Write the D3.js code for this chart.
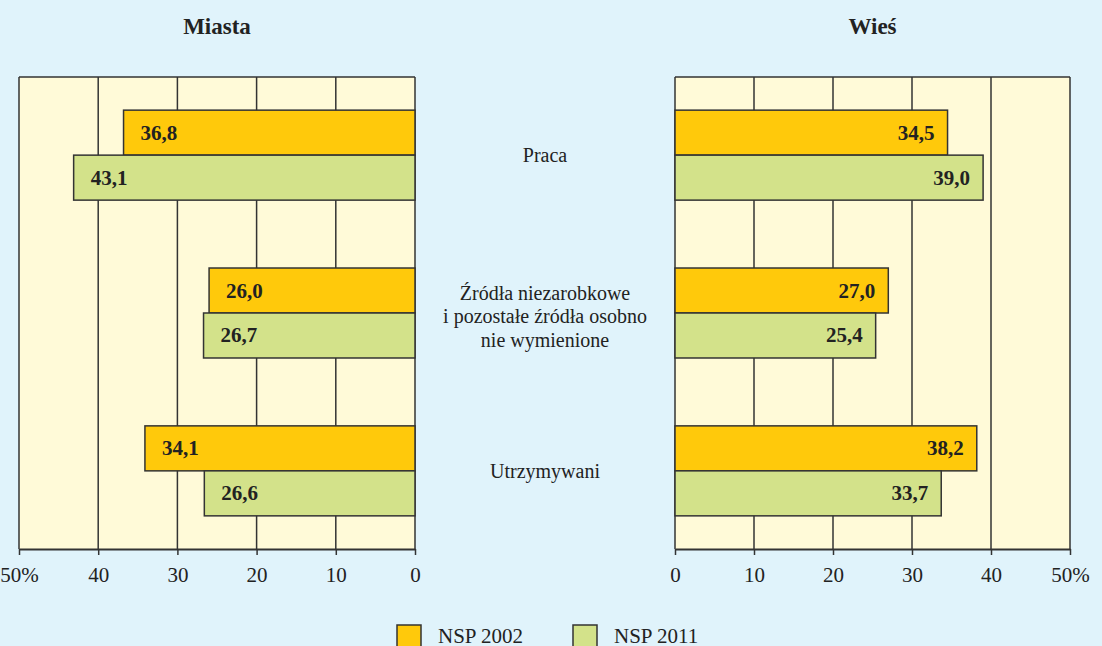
<!DOCTYPE html>
<html>
<head>
    <meta charset="utf-8">
    <script src="https://cdn.jsdelivr.net/npm/d3@7"></script>
    <style>
        body { margin: 0; background: #e0f3fb; }
        svg { display: block; }
        text { font-family: "Liberation Serif", "Times New Roman", serif; fill: #222; }
        .tick text { font-size: 21px; }
    </style>
</head>
<body>
<script>
    // data
    var categories = ["Praca", "Źródła niezarobkowe|i pozostałe źródła osobno|nie wymienione", "Utrzymywani"];
    var series = ["NSP 2002", "NSP 2011"];
    var miasta2002 = [36.8, 26.0, 34.1];
    var miasta2011 = [43.1, 26.7, 26.6];
    var wies2002 = [34.5, 27.0, 38.2];
    var wies2011 = [39.0, 25.4, 33.7];
    var tickValues = [0, 10, 20, 30, 40, 50];

    var colors = { "NSP 2002": "#ffc90b", "NSP 2011": "#d3e28a" };
    var W = 1102, H = 646;
    var plotTop = 77, plotBottom = 549;

    var svg = d3.select("body").append("svg")
        .attr("width", W).attr("height", H);

    svg.append("rect").attr("width", W).attr("height", H).attr("fill", "#e0f3fb");

    var y = d3.scaleBand().domain(categories).range([plotTop, plotBottom])
        .paddingInner(0.43).paddingOuter(0.21);
    var ySub = d3.scaleBand().domain(series).range([0, y.bandwidth()]);

    function fmt(v) { return v.toFixed(1).replace(".", ","); }

    function panel(title, x, d2002, d2011, leftSide) {
        var g = svg.append("g");
        var x0 = x(0), x50 = x(50);
        var lo = Math.min(x0, x50), hi = Math.max(x0, x50);

        g.append("rect").attr("x", lo).attr("y", plotTop)
            .attr("width", hi - lo).attr("height", plotBottom - plotTop)
            .attr("fill", "#fffad8");

        // grid
        g.selectAll(".grid").data(tickValues).enter().append("line")
            .attr("x1", function(d) { return x(d); }).attr("x2", function(d) { return x(d); })
            .attr("y1", plotTop).attr("y2", plotBottom)
            .attr("stroke", "#333").attr("stroke-width", 1.5);
        g.append("line").attr("x1", lo).attr("x2", hi).attr("y1", plotTop).attr("y2", plotTop)
            .attr("stroke", "#333").attr("stroke-width", 1.5);

        // bars
        var rows = [];
        categories.forEach(function(c, i) {
            rows.push({ cat: c, s: "NSP 2002", v: d2002[i] });
            rows.push({ cat: c, s: "NSP 2011", v: d2011[i] });
        });
        g.selectAll(".bar").data(rows).enter().append("rect")
            .attr("x", function(d) { return Math.min(x(0), x(d.v)); })
            .attr("y", function(d) { return y(d.cat) + ySub(d.s); })
            .attr("width", function(d) { return Math.abs(x(d.v) - x(0)); })
            .attr("height", ySub.bandwidth())
            .attr("fill", function(d) { return colors[d.s]; })
            .attr("stroke", "#333").attr("stroke-width", 1.5);

        g.selectAll(".lbl").data(rows).enter().append("text")
            .attr("x", function(d) { return leftSide ? x(d.v) + 17 : x(d.v) - 13; })
            .attr("y", function(d) { return y(d.cat) + ySub(d.s) + ySub.bandwidth() / 2 + 7; })
            .attr("text-anchor", leftSide ? "start" : "end")
            .style("font-size", "21px").style("font-weight", "bold")
            .text(function(d) { return fmt(d.v); });

        // axis
        var axis = d3.axisBottom(x).tickValues(tickValues)
            .tickSizeInner(6).tickSizeOuter(0).tickPadding(12)
            .tickFormat(function(d) { return d === 50 ? "50%" : d; });
        var ag = g.append("g").attr("transform", "translate(0," + plotBottom + ")").call(axis);
        ag.select(".domain").attr("stroke", "#333").attr("stroke-width", 2);
        ag.selectAll(".tick line").attr("stroke", "#333").attr("stroke-width", 1.5);
        ag.selectAll(".tick text").attr("fill", "#222")
            .style("font-family", "Liberation Serif, serif").style("font-size", "21px");

        g.append("text").attr("x", (lo + hi) / 2).attr("y", 34)
            .attr("text-anchor", "middle")
            .style("font-size", "23px").style("font-weight", "bold")
            .text(title);
    }

    var xLeft = d3.scaleLinear().domain([0, 50]).range([415, 19]);
    var xRight = d3.scaleLinear().domain([0, 50]).range([675, 1070]);
    panel("Miasta", xLeft, miasta2002, miasta2011, true);
    panel("Wieś", xRight, wies2002, wies2011, false);

    // category labels
    var cx = (415 + 675) / 2;
    categories.forEach(function(c) {
        var lines = c.split("|");
        var mid = y(c) + y.bandwidth() / 2;
        var t = svg.append("text").attr("text-anchor", "middle").style("font-size", "20px");
        lines.forEach(function(l, i) {
            t.append("tspan").attr("x", cx)
                .attr("y", mid + 7 + (lines.length > 1 ? 3 : 0) + (i - (lines.length - 1) / 2) * 23.5)
                .text(l);
        });
    });

    // legend
    var legX = [397, 573];
    series.forEach(function(s, i) {
        svg.append("rect").attr("x", legX[i]).attr("y", 625)
            .attr("width", 24).attr("height", 24)
            .attr("fill", colors[s]).attr("stroke", "#333").attr("stroke-width", 1.5);
        svg.append("text").attr("x", legX[i] + 41).attr("y", 643)
            .style("font-size", "21px").text(s);
    });
</script>
</body>
</html>
